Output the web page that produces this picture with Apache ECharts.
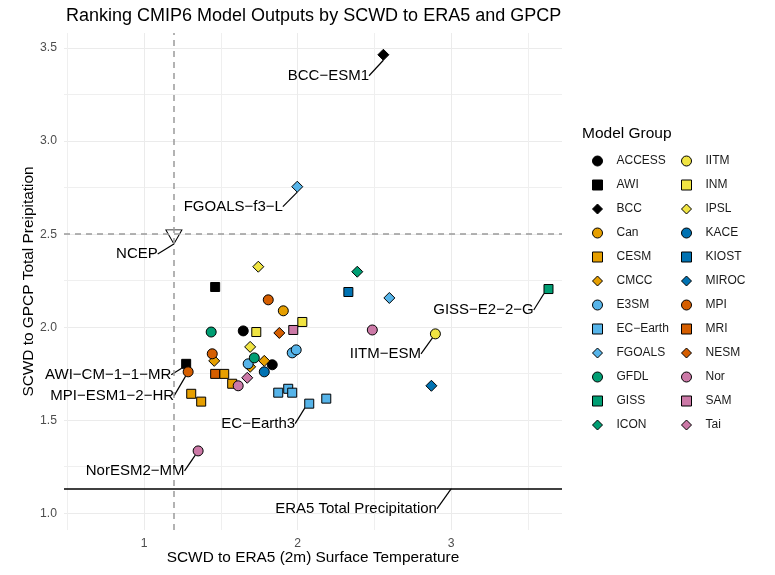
<!DOCTYPE html>
<html>
<head>
<meta charset="utf-8">
<script src="https://cdn.jsdelivr.net/npm/echarts@6/dist/echarts.min.js"></script>
<style>
  html, body { margin: 0; padding: 0; background: #fff; }
  #chart { width: 775px; height: 575px; }
</style>
</head>
<body>
<div id="chart"></div>
<script>
// model groups, in legend order
const groups = ['ACCESS', 'AWI', 'BCC', 'Can', 'CESM', 'CMCC', 'E3SM', 'EC-Earth', 'FGOALS',
  'GFDL', 'GISS', 'ICON', 'IITM', 'INM', 'IPSL', 'KACE', 'KIOST', 'MIROC', 'MPI', 'MRI', 'NESM',
  'Nor', 'SAM', 'Tai']

// one entry per model run
const pointGroup = ['BCC', 'FGOALS', 'IPSL', 'ICON', 'AWI', 'KIOST', 'FGOALS', 'GISS', 'MPI', 'Can',
  'INM', 'INM', 'NESM', 'SAM', 'Nor', 'IITM', 'ACCESS', 'GFDL', 'E3SM', 'E3SM', 'IPSL', 'GFDL',
  'CMCC', 'ACCESS', 'E3SM', 'CMCC', 'KACE', 'MIROC', 'MPI', 'CMCC', 'AWI', 'MPI', 'MRI', 'CESM',
  'CESM', 'CESM', 'CESM', 'Nor', 'Tai', 'EC-Earth', 'EC-Earth', 'EC-Earth', 'EC-Earth', 'EC-Earth', 'Nor']
const pointX = [2.559, 1.998, 1.744, 2.389, 1.463, 2.331, 2.598, 3.635, 1.809, 1.907,
  2.031, 1.731, 1.881, 1.972, 2.487, 2.898, 1.646, 1.437, 1.965, 1.991, 1.691, 1.718,
  1.783, 1.835, 1.678, 1.691, 1.783, 2.872, 1.444, 1.457, 1.274, 1.287, 1.463, 1.522,
  1.307, 1.372, 1.574, 1.613, 1.672, 1.874, 1.939, 1.965, 2.076, 2.187, 1.352]
const pointY = [3.464, 2.755, 2.325, 2.298, 2.216, 2.189, 2.157, 2.205, 2.147, 2.088,
  2.028, 1.974, 1.969, 1.985, 1.985, 1.964, 1.980, 1.974, 1.862, 1.878, 1.894, 1.835,
  1.819, 1.798, 1.803, 1.787, 1.760, 1.685, 1.857, 1.819, 1.803, 1.760, 1.749, 1.749,
  1.642, 1.600, 1.696, 1.685, 1.728, 1.648, 1.669, 1.648, 1.589, 1.616, 1.335]
const pointLabel = ['BCC−ESM1', 'FGOALS−f3−L', '', '', '', '', '', 'GISS−E2−2−G', '', '',
  '', '', '', '', '', 'IITM−ESM', '', '', '', '', '', '',
  '', '', '', '', '', '', '', '', 'AWI−CM−1−1−MR', 'MPI−ESM1−2−HR', '', '',
  '', '', '', '', '', '', '', '', 'EC−Earth3', '', 'NorESM2−MM']

// reanalysis references
const ncepX = 1.194
const ncepY = 2.496
const era5Y = 1.131
const era5LabelX = 3

// tick labels
const xTicks = [1, 2, 3]
const yTicks = [1.0, 1.5, 2.0, 2.5, 3.0, 3.5]

// styling
const familyColors = ['#000000', '#E69F00', '#56B4E9', '#009E73', '#F0E442', '#0072B2', '#D55E00', '#CC79A7']
const shapes = ['circle', 'rect', 'diamond']
const shapeSize = { circle: 10, rect: 9, diamond: 11 }
const labelOffset = {
  'BCC−ESM1': [-55, 21],
  'FGOALS−f3−L': [-64, 20],
  'NCEP': [-37, 17],
  'GISS−E2−2−G': [-65, 21],
  'IITM−ESM': [-50, 20],
  'AWI−CM−1−1−MR': [-78, 11],
  'MPI−ESM1−2−HR': [-76, 24],
  'EC−Earth3': [-51, 20],
  'NorESM2−MM': [-63, 20],
  'ERA5 Total Precipitation': [-95, 20],
}
const font = '"Liberation Sans", Arial, sans-serif'
const shown = (g) => g.replace('-', '−')

// explicit border colour stops the default inside-label stroke
const labelStyle = {
  show: true, position: 'inside', color: '#000', fontSize: 15, fontFamily: font,
  textBorderColor: 'transparent', textBorderWidth: 0, opacity: 1,
}

function labelled(texts) {
  return {
    labelLayout: (p) => {
      const o = labelOffset[texts[p.dataIndex]]
      return o ? { dx: o[0], dy: o[1] } : {}
    },
    labelLine: { show: true, lineStyle: { color: '#000', width: 1.2, opacity: 1 } },
  }
}

const series = groups.map((g, i) => {
  const idx = pointGroup.map((pg, k) => (pg === g ? k : -1)).filter((k) => k >= 0)
  const shape = shapes[i % 3]
  const texts = idx.map((k) => pointLabel[k])
  return {
    type: 'scatter',
    name: shown(g),
    symbol: shape,
    symbolSize: shapeSize[shape],
    itemStyle: { color: familyColors[Math.floor(i / 3)], borderColor: '#000', borderWidth: 1, opacity: 1 },
    data: idx.map((k) => ({
      value: [pointX[k], pointY[k]],
      label: pointLabel[k] ? { ...labelStyle, formatter: pointLabel[k] } : { show: false },
    })),
    ...labelled(texts),
    z: 3,
  }
})

series.push({
  type: 'scatter',
  name: 'NCEP',
  symbol: 'triangle',
  symbolRotate: 180,
  symbolSize: [16, 14],
  symbolOffset: [0, 2],
  itemStyle: { color: '#fff', borderColor: '#000', borderWidth: 1, opacity: 1 },
  data: [{ value: [ncepX, ncepY], label: { ...labelStyle, formatter: 'NCEP' } }],
  ...labelled(['NCEP']),
  markLine: {
    silent: true,
    symbol: 'none',
    label: { show: false },
    lineStyle: { color: '#9a9a9a', type: [6, 5], width: 1.5 },
    data: [{ yAxis: ncepY }, { xAxis: ncepX }],
  },
  z: 4,
})

series.push({
  type: 'scatter',
  name: 'ERA5',
  symbolSize: 1,
  itemStyle: { color: '#000', opacity: 1 },
  data: [{ value: [era5LabelX, era5Y], label: { ...labelStyle, formatter: 'ERA5 Total Precipitation' } }],
  ...labelled(['ERA5 Total Precipitation']),
  markLine: {
    silent: true,
    symbol: 'none',
    label: { show: false },
    lineStyle: { color: '#000', type: 'solid', width: 1.5 },
    data: [{ yAxis: era5Y }],
  },
  z: 2,
})

const legendItems = groups.map((g, i) => ({ name: shown(g), icon: shapes[i % 3] }))
const legendCommon = {
  orient: 'vertical',
  top: 150,
  itemWidth: 10,
  itemHeight: 10,
  itemGap: 12,
  selectedMode: false,
  itemStyle: { borderColor: '#000', borderWidth: 1 },
  textStyle: { fontSize: 12, color: '#1a1a1a', fontFamily: font, padding: [0, 0, 0, 9] },
}

const option = {
  backgroundColor: '#fff',
  animation: false,
  title: [
    {
      text: 'Ranking CMIP6 Model Outputs by SCWD to ERA5 and GPCP',
      left: 66, top: 7, padding: 0,
      textStyle: { fontSize: 18, fontWeight: 'normal', color: '#000', fontFamily: font },
    },
    {
      text: 'Model Group',
      left: 582, top: 126, padding: 0,
      textStyle: { fontSize: 15.5, fontWeight: 'normal', color: '#000', fontFamily: font },
    },
  ],
  legend: [
    { ...legendCommon, left: 587, data: legendItems.slice(0, 12) },
    { ...legendCommon, left: 676, data: legendItems.slice(12) },
  ],
  grid: { left: 64, right: 213, top: 33, bottom: 45, containLabel: false },
  xAxis: {
    type: 'value',
    min: 0.478, max: 3.723,
    splitNumber: 3,
    name: 'SCWD to ERA5 (2m) Surface Temperature',
    nameLocation: 'middle',
    nameGap: 20,
    nameMoveOverlap: false,
    nameTextStyle: { fontSize: 15.4, color: '#000', fontFamily: font },
    axisLine: { show: false },
    axisTick: { show: false },
    axisLabel: {
      color: '#4d4d4d', fontSize: 12.2, fontFamily: font, margin: 8,
      showMinLabel: false, showMaxLabel: false,
      formatter: (v) => (xTicks.includes(v) ? String(v) : ''),
    },
    splitLine: { show: true, showMinLine: false, showMaxLine: false, lineStyle: { color: '#ebebeb', width: 1 } },
    minorTick: { show: false, splitNumber: 2 },
    minorSplitLine: { show: true, lineStyle: { color: '#efefef', width: 1 } },
  },
  yAxis: {
    type: 'value',
    min: 0.91, max: 3.581,
    splitNumber: 5,
    name: 'SCWD to GPCP Total Preipitation',
    nameLocation: 'middle',
    nameGap: 28,
    nameMoveOverlap: false,
    nameTextStyle: { fontSize: 15.4, color: '#000', fontFamily: font },
    axisLine: { show: false },
    axisTick: { show: false },
    axisLabel: {
      color: '#4d4d4d', fontSize: 12.2, fontFamily: font, margin: 7,
      showMinLabel: false, showMaxLabel: false,
      formatter: (v) => (yTicks.some((t) => Math.abs(t - v) < 1e-6) ? v.toFixed(1) : ''),
    },
    splitLine: { show: true, showMinLine: false, showMaxLine: false, lineStyle: { color: '#ebebeb', width: 1 } },
    minorTick: { show: false, splitNumber: 2 },
    minorSplitLine: { show: true, lineStyle: { color: '#efefef', width: 1 } },
  },
  series,
}

const chart = echarts.init(document.getElementById('chart'), null, { renderer: 'canvas' })
chart.setOption(option)
</script>
</body>
</html>
